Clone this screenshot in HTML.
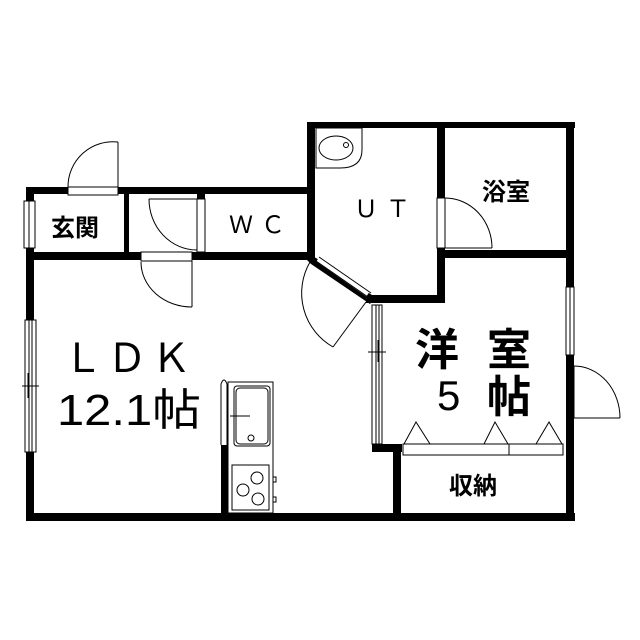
<!DOCTYPE html>
<html><head><meta charset="utf-8"><style>
html,body{margin:0;padding:0;background:#fff}
svg{display:block}
text{font-family:"Liberation Sans","Noto Sans CJK JP",sans-serif;fill:#000}
.b{font-weight:bold}
</style></head><body>
<svg width="640" height="640" viewBox="0 0 640 640" xmlns="http://www.w3.org/2000/svg">
<rect width="640" height="640" fill="#fff"/>
<g fill="#000">
<rect x="26" y="187" width="289" height="7"/>
<rect x="26" y="252" width="289" height="8"/>
<rect x="26" y="187" width="8" height="14"/>
<rect x="26" y="248" width="8" height="72"/>
<rect x="26" y="452" width="8" height="69"/>
<rect x="26" y="513" width="549" height="8"/>
<rect x="124" y="194" width="5" height="58"/>
<rect x="197" y="194" width="8" height="5"/>
<rect x="307" y="122" width="268" height="6"/>
<rect x="307" y="122" width="8" height="135"/>
<rect x="437" y="122" width="8" height="76"/>
<rect x="437" y="248" width="8" height="55"/>
<rect x="437" y="250" width="137" height="8"/>
<rect x="366" y="295" width="79" height="8"/>
<rect x="566" y="122" width="8" height="165"/>
<rect x="566" y="355" width="8" height="166"/>
<rect x="372" y="444" width="30" height="8"/>
<rect x="393" y="444" width="8" height="77"/>
<rect x="221" y="445" width="7" height="70"/>
<polygon points="307,254 316,258 375,297 370,304 311,264 305,258"/>
</g>
<g fill="none" stroke="#000" stroke-width="1">
<rect x="68" y="187" width="50" height="8" fill="#fff"/>
<line x1="118" y1="142" x2="118" y2="187"/>
<path d="M118,142 A45,45 0 0 0 68,187"/>
<rect x="197" y="199" width="8" height="53" fill="#fff"/>
<line x1="149" y1="199" x2="197" y2="199"/>
<path d="M149,199 A48,51 0 0 0 197,250"/>
<line x1="205" y1="199" x2="205" y2="252"/>
<rect x="141" y="252" width="51" height="9" fill="#fff"/>
<line x1="192" y1="261" x2="192" y2="307"/>
<path d="M141,262 A51,45 0 0 0 192,307"/>
<rect x="24" y="201" width="11" height="47" fill="#fff"/>
<line x1="29" y1="201" x2="29" y2="248"/>
<rect x="25" y="320" width="11" height="132" fill="#fff"/>
<line x1="29" y1="320" x2="29" y2="452"/><line x1="32" y1="320" x2="32" y2="452"/>
<line x1="22" y1="386" x2="39" y2="386"/><line x1="28" y1="373" x2="28" y2="398"/><line x1="32" y1="373" x2="32" y2="398"/>
<path d="M316,128 H362 V150 Q362,168 340,168 H316 Z"/>
<ellipse cx="336" cy="148" rx="17" ry="12"/>
<circle cx="346" cy="145" r="2.5"/>
<rect x="437" y="198" width="8" height="50" fill="#fff"/>
<line x1="445" y1="248" x2="492" y2="248"/>
<path d="M445,198 A47,50 0 0 1 492,248"/>
<line x1="318" y1="259" x2="368" y2="294" stroke="#fff" stroke-width="6"/>
<line x1="316" y1="261" x2="368" y2="297"/>
<line x1="319" y1="257" x2="371" y2="293"/>
<line x1="366" y1="302" x2="333" y2="347"/>
<path d="M310,262 A62,62 0 0 0 333,347"/>
<rect x="372" y="305" width="10" height="139" fill="#fff"/>
<line x1="376" y1="305" x2="376" y2="444"/><line x1="379" y1="305" x2="379" y2="444"/>
<line x1="368" y1="352" x2="386" y2="352"/><line x1="378" y1="340" x2="378" y2="362"/>
<rect x="566" y="287" width="8" height="68" fill="#fff"/>
<line x1="570" y1="287" x2="570" y2="355"/>
<line x1="574" y1="418" x2="620" y2="418"/>
<path d="M574,366 A46,52 0 0 1 620,418"/>
<line x1="574" y1="366" x2="574" y2="418"/>
<rect x="403" y="444" width="160" height="11" fill="#fff"/>
<line x1="509" y1="444" x2="509" y2="455"/>
<polyline points="404,444 416,422 430,444"/>
<polyline points="484,444 495,422 508,444"/>
<polyline points="536,444 549,422 562,444"/>
<path d="M221,445 V384 Q224,376 227,384 V445"/>
<rect x="228" y="382" width="45" height="131"/>
<rect x="234" y="386" width="36" height="60" rx="3"/>
<rect x="236" y="388" width="32" height="56" rx="4"/>
<line x1="230" y1="416" x2="250" y2="416"/>
<circle cx="251" cy="438" r="3"/>
<rect x="232" y="465" width="37" height="45"/>
<circle cx="257" cy="478" r="6"/><circle cx="243" cy="490" r="6"/><circle cx="258" cy="499" r="6"/>
<rect x="273" y="477" width="3" height="5"/><rect x="273" y="497" width="3" height="5"/>
</g>
<g>
<text class="b" x="51" y="236" font-size="24">玄関</text>
<text x="229" y="233" font-size="24" letter-spacing="8">ＷＣ</text>
<text x="354" y="217" font-size="24" letter-spacing="8">ＵＴ</text>
<text class="b" x="482" y="200" font-size="24">浴室</text>
<text x="63" y="372" font-size="40" letter-spacing="4">ＬＤＫ</text>
<text x="57" y="425" font-size="44" textLength="144" lengthAdjust="spacingAndGlyphs">12.1帖</text>
<text class="b" x="415" y="365" font-size="44">洋</text>
<text class="b" x="487" y="365" font-size="44">室</text>
<text x="437" y="410" font-size="42">5</text>
<text class="b" x="487" y="412" font-size="44">帖</text>
<text class="b" x="449" y="494" font-size="24">収納</text>
</g>
</svg>
</body></html>
